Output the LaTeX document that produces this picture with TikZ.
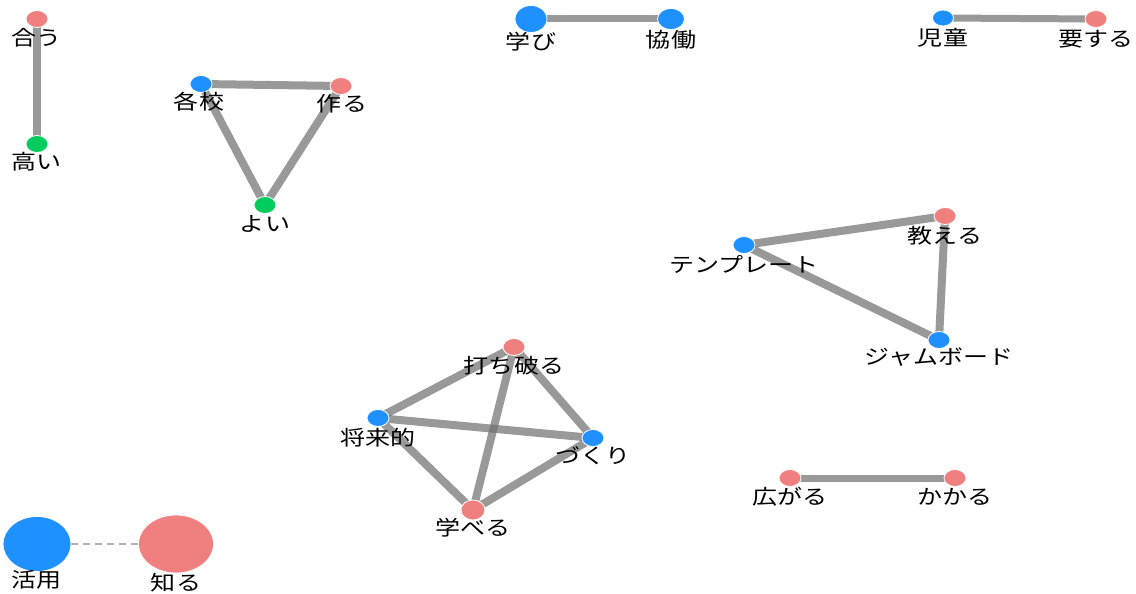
\documentclass[tikz,border=0pt]{standalone}
\usepackage{fontspec}
\setmainfont[FakeStretch=1.22]{Noto Sans CJK JP}
\usetikzlibrary{shapes.geometric,backgrounds}
\definecolor{nblue}{HTML}{1E90FF}
\definecolor{npink}{HTML}{F08080}
\definecolor{ngreen}{HTML}{00CC5E}
\definecolor{edgegray}{RGB}{110,110,110}
\tikzset{
  dot/.style={ellipse, draw=white, line width=0.8pt, inner sep=0pt, minimum width=22pt, minimum height=17pt},
  bdot/.style={dot, fill=nblue},
  pdot/.style={dot, fill=npink},
  gdot/.style={dot, fill=ngreen},
  lab/.style={font=\fontsize{20.5}{20.5}\selectfont, inner sep=0pt, text=black},
  edge/.style={draw=edgegray, draw opacity=0.7, line width=8pt},
  weak/.style={draw=black!30, line width=1.3pt, dash pattern=on 7pt off 5pt}
}
\begin{document}
\begin{tikzpicture}[x=1pt,y=-1pt]
\useasboundingbox (0,0) rectangle (1136,594);
% nodes
\node[pdot] (au) at (37,19) {};
\node[gdot] (takai) at (37,144) {};
\node[bdot] (kakko) at (201,84) {};
\node[pdot] (tsukuru) at (341,86) {};
\node[gdot] (yoi) at (265,205) {};
\node[bdot, minimum width=32pt, minimum height=27pt] (manabi) at (531,19) {};
\node[bdot, minimum width=27pt, minimum height=21pt] (kyodo) at (671,19) {};
\node[bdot, minimum width=21pt, minimum height=16pt] (jido) at (943,18) {};
\node[pdot] (yosuru) at (1096,19) {};
\node[bdot] (temp) at (744,245) {};
\node[pdot] (oshieru) at (945,216) {};
\node[bdot] (jam) at (939,340) {};
\node[pdot] (uchi) at (514,347) {};
\node[bdot] (shorai) at (378,418) {};
\node[bdot] (zukuri) at (593,438) {};
\node[pdot, minimum width=24pt, minimum height=20pt] (manaberu) at (473,510) {};
\node[bdot, minimum width=68pt, minimum height=55pt] (katsuyo) at (37,544) {};
\node[pdot, minimum width=75pt, minimum height=58pt] (shiru) at (176,544) {};
\node[pdot] (hirogaru) at (790,478) {};
\node[pdot] (kakaru) at (955,478) {};
% labels
\node[lab] (l-au) at (37,38) {合う};
\node[lab] (l-takai) at (37,162) {高い};
\node[lab] (l-kakko) at (199,102) {各校};
\node[lab] (l-tsukuru) at (342,104) {作る};
\node[lab] (l-yoi) at (265,224) {よい};
\node[lab] (l-manabi) at (531,42) {学び};
\node[lab] (l-kyodo) at (671,40) {協働};
\node[lab] (l-jido) at (943,38) {児童};
\node[lab] (l-yosuru) at (1096,39) {要する};
\node[lab] (l-temp) at (744,264) {テンプレート};
\node[lab] (l-oshieru) at (945,236) {教える};
\node[lab] (l-jam) at (939,357) {ジャムボード};
\node[lab] (l-uchi) at (514,366) {打ち破る};
\node[lab] (l-shorai) at (378,438) {将来的};
\node[lab] (l-zukuri) at (593,456) {づくり};
\node[lab] (l-manaberu) at (473,528) {学べる};
\node[lab] (l-katsuyo) at (37,580) {活用};
\node[lab] (l-shiru) at (176,583) {知る};
\node[lab] (l-hirogaru) at (790,497) {広がる};
\node[lab] (l-kakaru) at (955,497) {かかる};
% edges
\begin{scope}[on background layer]
\draw[edge] (au.center) -- (takai.center);
\draw[edge] (kakko.center) -- (tsukuru.center);
\draw[edge] (kakko.center) -- (yoi.center);
\draw[edge] (tsukuru.center) -- (yoi.center);
\draw[edge, line width=7pt] (manabi.center) -- (kyodo.center);
\draw[edge, line width=7pt] (jido.center) -- (yosuru.center);
\draw[edge] (temp.center) -- (oshieru.center);
\draw[edge] (temp.center) -- (jam.center);
\draw[edge] (oshieru.center) -- (jam.center);
\draw[edge] (uchi.center) -- (shorai.center);
\draw[edge] (uchi.center) -- (zukuri.center);
\draw[edge] (uchi.center) -- (manaberu.center);
\draw[edge] (shorai.center) -- (zukuri.center);
\draw[edge] (shorai.center) -- (manaberu.center);
\draw[edge] (zukuri.center) -- (manaberu.center);
\draw[edge, line width=7pt] (hirogaru.center) -- (kakaru.center);
\draw[weak] (katsuyo) -- (shiru);
\end{scope}
\end{tikzpicture}
\end{document}
